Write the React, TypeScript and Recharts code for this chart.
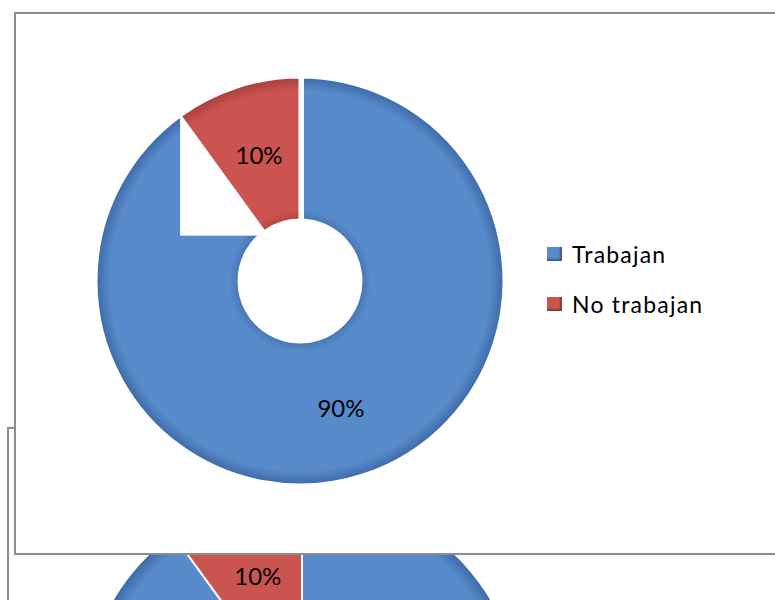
import React from 'react';
import { PieChart, Pie, Cell, Legend, Sector } from 'recharts';

const categories = ['Trabajan', 'No trabajan'];
const values = [90, 10];
const colors = ['#588bcb', '#cc5450'];

const data = categories.map((name, i) => ({ name, value: values[i] }));

const RADIAN = Math.PI / 180;
const FONT = 'Lato, "Open Sans", sans-serif';
const NO_MARGIN = { top: 0, right: 0, bottom: 0, left: 0 };

const labelText = (props: any) => {
  const { cx, cy, midAngle, innerRadius, outerRadius, percent } = props;
  const r = (innerRadius + outerRadius) / 2;
  const x = cx + r * Math.cos(-midAngle * RADIAN);
  const y = cy + r * Math.sin(-midAngle * RADIAN);
  return (
    <text x={x} y={y} textAnchor="middle" dominantBaseline="central" fontSize={24} fill="#000" fontFamily={FONT}>
      {`${Math.round(percent * 100)}%`}
    </text>
  );
};

// the copy behind only shows its small slice's label
const backLabel = (props: any) => (props.index === 1 ? labelText(props) : <g />);

// main chart: the small slice sits in a white box (it was pulled out in the original),
// so the box and the slice are drawn in the label layer, above the big slice
const boxLabel = (props: any) => {
  if (props.index !== 1) return <g />;
  const { cx, cy, innerRadius, outerRadius, startAngle, endAngle } = props;
  const xs: number[] = [];
  const ys: number[] = [];
  for (let k = 0; k <= 24; k++) {
    const a = (startAngle + ((endAngle - startAngle) * k) / 24) * RADIAN;
    [innerRadius, outerRadius].forEach((r: number) => {
      xs.push(cx + r * Math.cos(-a));
      ys.push(cy + r * Math.sin(-a));
    });
  }
  const pad = 4;
  const x0 = Math.min(...xs);
  const y0 = Math.min(...ys) - pad;
  return (
    <g>
      <rect x={x0} y={y0} width={Math.max(...xs) + pad - x0} height={Math.max(...ys) + pad - y0} fill="#fff" />
      <Sector
        cx={cx}
        cy={cy}
        innerRadius={innerRadius}
        outerRadius={outerRadius}
        startAngle={startAngle}
        endAngle={endAngle}
        fill="url(#main-red)"
        stroke="#fff"
        strokeWidth={3}
      />
    </g>
  );
};

const LegendList = ({ payload }: any) => {
  const items = (payload || [])
    .filter((p: any) => p.type !== 'none')
    .sort((a: any, b: any) => categories.indexOf(a.value) - categories.indexOf(b.value));
  return (
    <div style={{ fontFamily: FONT, fontSize: 23, color: '#000' }}>
      {items.map((p: any, i: number) => (
        <div key={i} style={{ display: 'flex', alignItems: 'center', height: 50 }}>
          <span
            style={{
              width: 15,
              height: 14,
              marginRight: 10,
              background: colors[categories.indexOf(p.value)],
              boxShadow: 'inset -2px -2px 2px rgba(0,0,0,0.35)',
            }}
          />
          <span style={{ letterSpacing: 1.2 }}>{p.value}</span>
        </div>
      ))}
    </div>
  );
};

const Gradients = ({ id, cx, cy, r, inner }: any) => {
  const f = inner / r;
  return (
    <defs>
      <radialGradient id={`${id}-blue`} gradientUnits="userSpaceOnUse" cx={cx} cy={cy} r={r}>
        <stop offset={f} stopColor="#4674b2" />
        <stop offset={f + 0.05} stopColor="#588bcb" />
        <stop offset={0.93} stopColor="#588bcb" />
        <stop offset={1} stopColor="#3d69a6" />
      </radialGradient>
      <radialGradient id={`${id}-red`} gradientUnits="userSpaceOnUse" cx={cx} cy={cy} r={r}>
        <stop offset={f} stopColor="#b04440" />
        <stop offset={f + 0.05} stopColor="#cc5450" />
        <stop offset={0.93} stopColor="#cc5450" />
        <stop offset={1} stopColor="#a63f3c" />
      </radialGradient>
    </defs>
  );
};

export default function App() {
  const main = { cx: 284, cy: 267, inner: 61, outer: 204 };
  const back = { cx: 293, cy: 283, inner: 66, outer: 220 };
  return (
    <div style={{ position: 'absolute', left: 0, top: 0, width: 775, height: 600, overflow: 'hidden', background: '#fff' }}>
      {/* second copy of the chart, sitting behind */}
      <div style={{ position: 'absolute', left: 7, top: 427, width: 800, height: 600, border: '2px solid #8c8c8c', background: '#fff' }}>
        <PieChart width={800} height={600} margin={NO_MARGIN}>
          <Gradients id="back" cx={back.cx} cy={back.cy} r={back.outer} inner={back.inner} />
          <Pie
            data={data}
            dataKey="value"
            nameKey="name"
            cx={back.cx}
            cy={back.cy}
            innerRadius={back.inner}
            outerRadius={back.outer}
            startAngle={90}
            endAngle={-270}
            stroke="#fff"
            strokeWidth={2}
            label={backLabel}
            labelLine={false}
            isAnimationActive={false}
          >
            <Cell fill="url(#back-blue)" />
            <Cell fill="url(#back-red)" />
          </Pie>
        </PieChart>
      </div>

      <div style={{ position: 'absolute', left: 14, top: 12, width: 800, height: 539, border: '2px solid #8c8c8c', background: '#fff' }}>
        <PieChart width={800} height={539} margin={NO_MARGIN}>
          <Gradients id="main" cx={main.cx} cy={main.cy} r={main.outer} inner={main.inner} />
          <Pie
            data={data}
            dataKey="value"
            nameKey="name"
            cx={main.cx}
            cy={main.cy}
            innerRadius={main.inner}
            outerRadius={main.outer}
            startAngle={90}
            endAngle={-270}
            stroke="#fff"
            strokeWidth={3}
            label={boxLabel}
            labelLine={false}
            legendType="none"
            isAnimationActive={false}
          >
            <Cell fill="url(#main-blue)" />
            <Cell fill={colors[1]} fillOpacity={0} stroke="none" />
          </Pie>
          <Pie
            data={data}
            dataKey="value"
            nameKey="name"
            cx={main.cx}
            cy={main.cy}
            innerRadius={main.inner}
            outerRadius={main.outer}
            startAngle={90}
            endAngle={-270}
            stroke="none"
            fillOpacity={0}
            label={labelText}
            labelLine={false}
            isAnimationActive={false}
          >
            <Cell fill={colors[0]} />
            <Cell fill={colors[1]} />
          </Pie>
          <Legend
            layout="vertical"
            verticalAlign="middle"
            align="right"
            content={<LegendList />}
            wrapperStyle={{ left: 531, top: 215, width: 200 }}
          />
        </PieChart>
      </div>
    </div>
  );
}
